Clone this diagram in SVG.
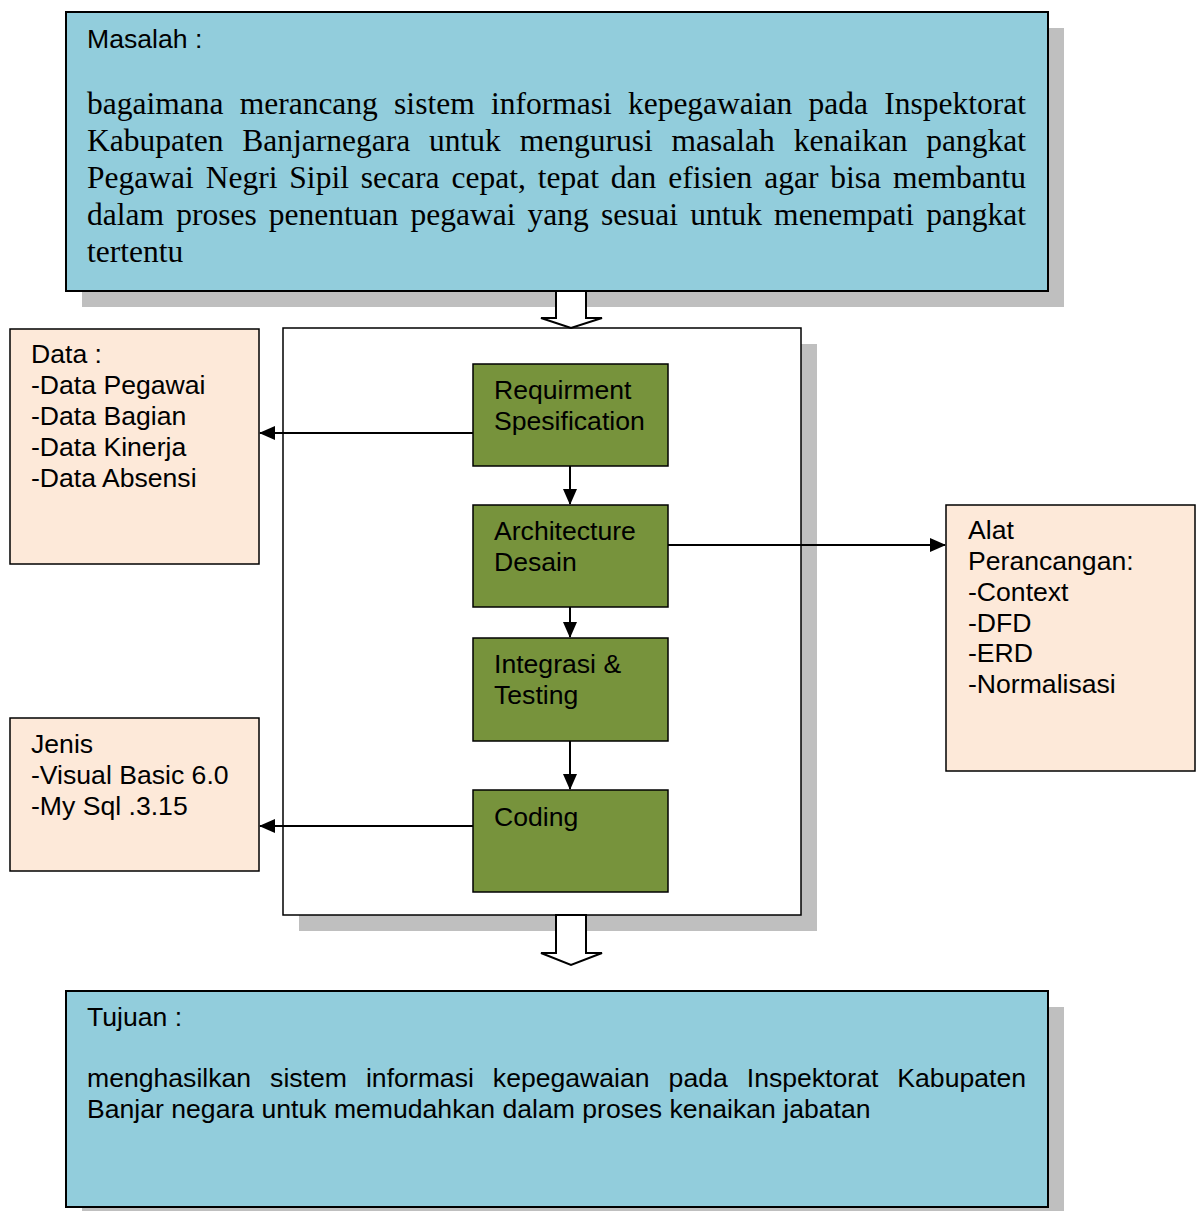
<svg xmlns="http://www.w3.org/2000/svg" width="1197" height="1211" viewBox="0 0 1197 1211">
<style>
.sh{fill:#BFBFBF}
.blue{fill:#92CDDC;stroke:#000;stroke-width:2}
.peach{fill:#FDE9D9;stroke:#000;stroke-width:1.5}
.green{fill:#77933C;stroke:#000;stroke-width:1.5}
.t{font-family:"Liberation Sans",Arial,sans-serif;font-size:26.6px;fill:#000}
.s{font-family:"Liberation Serif","Times New Roman",serif;font-size:31.5px;fill:#000}
.ln{stroke:#000;stroke-width:2;fill:none}
.blk{fill:#fff;stroke:#000;stroke-width:2;stroke-linejoin:miter}
</style>
<defs>
<marker id="ah" markerWidth="16" markerHeight="14" refX="15" refY="7" orient="auto" markerUnits="userSpaceOnUse">
<path d="M0,0 L16,7 L0,14 Z" fill="#000"/>
</marker>
</defs>
<rect width="1197" height="1211" fill="#fff"/>

<g id="masalah">
<rect class="sh" x="82" y="28" width="982" height="279"/>
<rect class="blue" x="66" y="12" width="982" height="279"/>
<text class="t" x="87" y="48">Masalah :</text>
<text class="s" x="87" y="114" word-spacing="8.4" textLength="939" lengthAdjust="spacing">bagaimana merancang sistem informasi kepegawaian pada Inspektorat</text>
<text class="s" x="87" y="151" word-spacing="11" textLength="939" lengthAdjust="spacing">Kabupaten Banjarnegara untuk mengurusi masalah kenaikan pangkat</text>
<text class="s" x="87" y="188" word-spacing="4" textLength="939" lengthAdjust="spacing">Pegawai Negri Sipil secara cepat, tepat dan efisien agar bisa membantu</text>
<text class="s" x="87" y="225" word-spacing="4.3" textLength="939" lengthAdjust="spacing">dalam proses penentuan pegawai yang sesuai untuk menempati pangkat</text>
<text class="s" x="87" y="262">tertentu</text>
</g>

<g id="proses">
<rect class="sh" x="299" y="344" width="518" height="587"/>
<rect x="283" y="328" width="518" height="587" fill="#fff" stroke="#000" stroke-width="1.5"/>
</g>

<g id="data">
<rect class="peach" x="10" y="329" width="249" height="235"/>
<text class="t" x="31" y="363">Data :</text>
<text class="t" x="31" y="394">-Data Pegawai</text>
<text class="t" x="31" y="425">-Data Bagian</text>
<text class="t" x="31" y="456">-Data Kinerja</text>
<text class="t" x="31" y="487">-Data Absensi</text>
</g>

<g id="jenis">
<rect class="peach" x="10" y="718" width="249" height="153"/>
<text class="t" x="31" y="753">Jenis</text>
<text class="t" x="31" y="784">-Visual Basic 6.0</text>
<text class="t" x="31" y="815">-My Sql .3.15</text>
</g>

<g id="alat">
<rect class="peach" x="946" y="505" width="249" height="266"/>
<text class="t" x="968" y="539">Alat</text>
<text class="t" x="968" y="570">Perancangan:</text>
<text class="t" x="968" y="601">-Context</text>
<text class="t" x="968" y="632">-DFD</text>
<text class="t" x="968" y="662">-ERD</text>
<text class="t" x="968" y="693">-Normalisasi</text>
</g>

<g id="requirment">
<rect class="green" x="473" y="364" width="195" height="102"/>
<text class="t" x="494" y="399">Requirment</text>
<text class="t" x="494" y="430">Spesification</text>
</g>

<g id="architecture">
<rect class="green" x="473" y="505" width="195" height="102"/>
<text class="t" x="494" y="540">Architecture</text>
<text class="t" x="494" y="571">Desain</text>
</g>

<g id="integrasi">
<rect class="green" x="473" y="638" width="195" height="103"/>
<text class="t" x="494" y="673">Integrasi &amp;</text>
<text class="t" x="494" y="704">Testing</text>
</g>

<g id="coding">
<rect class="green" x="473" y="790" width="195" height="102"/>
<text class="t" x="494" y="826">Coding</text>
</g>

<g id="tujuan">
<rect class="sh" x="82" y="1007" width="982" height="216"/>
<rect class="blue" x="66" y="991" width="982" height="216"/>
<text class="t" x="87" y="1026">Tujuan :</text>
<text class="t" x="87" y="1087" word-spacing="11.6" textLength="939" lengthAdjust="spacing">menghasilkan sistem informasi kepegawaian pada Inspektorat Kabupaten</text>
<text class="t" x="87" y="1118">Banjar negara untuk memudahkan dalam proses kenaikan jabatan</text>
</g>

<g id="connectors">
<polygon class="blk" points="556,291 586,291 586,318 602,318 571,328 541,318 556,318"/>
<polygon class="blk" points="556,915 586,915 586,953 602,953 571,965 541,953 556,953"/>
<line class="ln" x1="473" y1="433" x2="260" y2="433" marker-end="url(#ah)"/>
<line class="ln" x1="473" y1="826" x2="260" y2="826" marker-end="url(#ah)"/>
<line class="ln" x1="668" y1="545" x2="945" y2="545" marker-end="url(#ah)"/>
<line class="ln" x1="570" y1="466" x2="570" y2="504" marker-end="url(#ah)"/>
<line class="ln" x1="570" y1="607" x2="570" y2="637" marker-end="url(#ah)"/>
<line class="ln" x1="570" y1="741" x2="570" y2="789" marker-end="url(#ah)"/>
</g>
</svg>
